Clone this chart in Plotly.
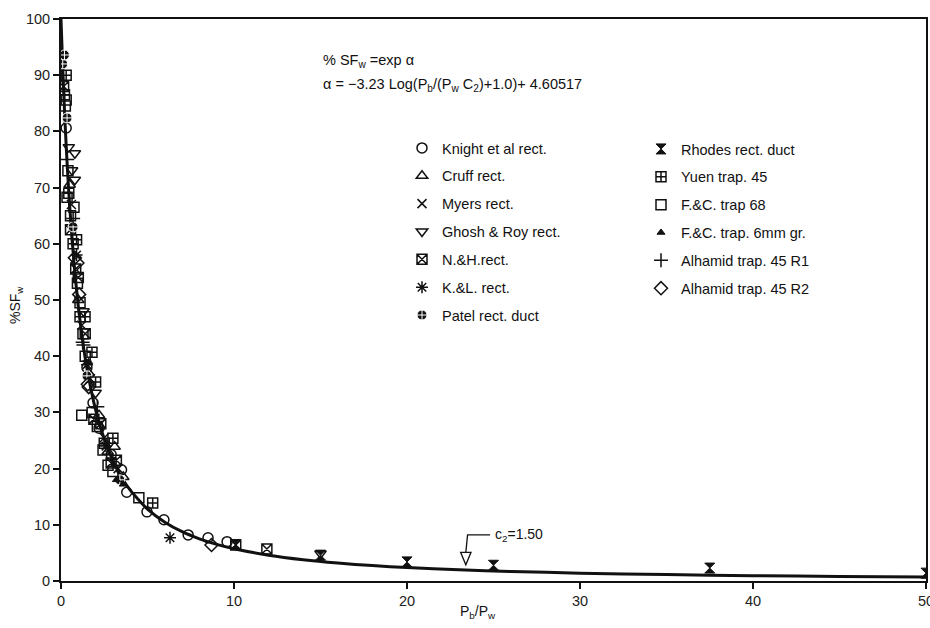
import plotly.graph_objects as go

# ---------------- data ----------------
# fitted curve  %SFw = exp(alpha), alpha = -3.23 Log(Pb/(Pw C2)+1.0) + 4.60517, C2 = 1.50
curve_x = [0, 0.1, 0.2, 0.3, 0.4, 0.5, 0.75, 1, 1.25, 1.5, 2, 2.5, 3, 3.5, 4, 5, 6, 7, 8, 9,
           10, 12, 14, 16, 18, 20, 23, 26, 30, 35, 40, 45, 50]
curve_y = [100, 91.35, 83.90, 77.43, 71.78, 66.79, 56.62, 48.84, 42.73, 37.82, 30.47, 25.26,
           21.41, 18.47, 16.16, 12.78, 10.46, 8.77, 7.51, 6.52, 5.74, 4.59, 3.78, 3.19, 2.74,
           2.39, 1.99, 1.69, 1.40, 1.14, 0.95, 0.81, 0.70]

series_names = ["Knight et al rect.", "Cruff rect.", "Myers rect.", "Ghosh & Roy rect.",
                "N.&H.rect.", "K.&L. rect.", "Patel rect. duct",
                "Rhodes rect. duct", "Yuen trap. 45", "F.&C. trap 68",
                "F.&C. trap. 6mm gr.", "Alhamid trap. 45 R1", "Alhamid trap. 45 R2"]

knight_x = [0.3, 1.5, 1.85, 2.2, 2.9, 3.5, 3.8, 4.97, 5.95, 7.35, 8.5, 9.6]
knight_y = [80.6, 38.0, 31.7, 27.2, 22.5, 19.8, 15.8, 12.3, 10.9, 8.2, 7.7, 7.0]
cruff_x = [0.5, 1.0, 1.6, 2.2, 2.7, 3.1, 3.6]
cruff_y = [70.5, 50.0, 37.0, 29.5, 23.0, 23.9, 18.5]
myers_x = [0.6, 1.2, 1.7, 2.5, 3.3]
myers_y = [67.0, 45.5, 36.0, 25.5, 20.0]
ghosh_x = [0.45, 0.8, 0.8, 0.64, 1.3, 2.0, 15.0]
ghosh_y = [77.2, 76.1, 71.4, 73.1, 48.0, 33.5, 4.9]
nh_x = [0.15, 0.55, 0.85, 1.0, 1.4, 1.9, 2.3, 2.9, 3.2, 10.1, 11.9]
nh_y = [88.0, 62.5, 55.5, 54.0, 44.0, 28.8, 28.0, 21.0, 21.5, 6.4, 5.7]
kl_x = [0.9, 1.5, 2.6, 6.3]
kl_y = [58.0, 38.5, 24.0, 7.7]
patel_x = [0.1, 0.2, 0.35, 0.7, 1.5, 3.4]
patel_y = [92.0, 93.6, 82.4, 63.0, 36.5, 18.0]
rhodes_x = [10.1, 15.0, 20.0, 25.0, 37.5, 50.0]
rhodes_y = [6.5, 4.6, 3.4, 2.8, 2.3, 1.4]
yuen_x = [0.2, 0.3, 0.45, 0.7, 0.9, 1.1, 1.39, 1.79, 2.0, 2.5, 3.0, 5.3]
yuen_y = [86.5, 90.0, 69.0, 60.0, 60.7, 47.0, 47.0, 40.7, 35.4, 24.5, 25.4, 13.9]
fc68_x = [0.25, 0.3, 0.35, 0.4, 0.55, 0.75, 0.95, 1.1, 1.27, 1.2, 1.4, 1.8, 2.1, 2.43, 2.72, 3.0, 4.5]
fc68_y = [84.5, 85.6, 68.3, 73.0, 65.0, 66.5, 53.0, 49.5, 44.0, 29.5, 40.0, 30.0, 27.5, 23.3, 20.6, 19.5, 14.8]
fc6mm_x = [1.6, 3.2, 3.6]
fc6mm_y = [39.0, 18.0, 17.2]
alr1_x = [0.35, 0.7, 1.25, 1.3, 2.1]
alr1_y = [75.0, 64.5, 42.5, 42.0, 31.0]
alr2_x = [0.8, 0.95, 1.05, 1.55, 1.6, 8.7]
alr2_y = [57.5, 56.6, 51.0, 35.0, 34.5, 6.4]

x_ticks = [0, 10, 20, 30, 40, 50]
y_ticks = [0, 10, 20, 30, 40, 50, 60, 70, 80, 90, 100]

c2_label = "c<sub>2</sub>=1.50"
c2_point = (23.35, 2.9)

# ---------------- figure ----------------
FONT = "Liberation Sans, Arial, sans-serif"
INK = "#111111"

fig = go.Figure()

fig.add_trace(go.Scatter(x=curve_x, y=curve_y, mode="lines",
                         line=dict(color=INK, width=3, shape="spline", smoothing=0.6),
                         showlegend=False, hoverinfo="skip"))

marker_defs = [
    (knight_x, knight_y, "circle-open", 10, "legend"),
    (cruff_x, cruff_y, "triangle-up-open", 10, "legend"),
    (myers_x, myers_y, "x-thin-open", 9, "legend"),
    (ghosh_x, ghosh_y, "triangle-down-open", 10, "legend"),
    (nh_x, nh_y, "square-x-open", 10, "legend"),
    (kl_x, kl_y, "asterisk-open", 10, "legend"),
    (patel_x, patel_y, "circle-cross", 10, "legend"),
    (rhodes_x, rhodes_y, "hourglass", 10, "legend2"),
    (yuen_x, yuen_y, "square-cross-open", 10, "legend2"),
    (fc68_x, fc68_y, "square-open", 10, "legend2"),
    (fc6mm_x, fc6mm_y, "triangle-up", 7, "legend2"),
    (alr1_x, alr1_y, "cross-thin-open", 10, "legend2"),
    (alr2_x, alr2_y, "diamond-open", 10, "legend2"),
]

for i, (xs, ys, sym, size, lg) in enumerate(marker_defs):
    if sym == "circle-cross":
        mk = dict(symbol=sym, size=size, color=INK, line=dict(color="white", width=1))
    elif sym in ("hourglass", "triangle-up"):
        mk = dict(symbol=sym, size=size, color=INK, line=dict(color=INK, width=1))
    else:
        mk = dict(symbol=sym, size=size, color=INK, line=dict(color=INK, width=1.5))
    fig.add_trace(go.Scatter(x=xs, y=ys, mode="markers", name=series_names[i], marker=mk,
                             legend=lg, legendgroup=f"g{i}"))

# c2 leader (bent line + open arrow head)
px, py = c2_point
fig.add_shape(type="path", xref="x", yref="y",
              path=f"M {px + 1.45} {py + 5.3} L {px + 0.15} {py + 5.3} L {px + 0.05} {py + 2.2}",
              line=dict(color=INK, width=1.3))
fig.add_shape(type="path", xref="x", yref="y",
              path=f"M {px - 0.25} {py + 2.2} L {px + 0.35} {py + 2.2} L {px + 0.05} {py} Z",
              line=dict(color=INK, width=1.3), fillcolor="white")
fig.add_annotation(x=px + 1.6, y=py + 5.3, xref="x", yref="y", text=c2_label, showarrow=False,
                   xanchor="left", yanchor="middle", font=dict(family=FONT, size=14, color=INK))

# formula text
fig.add_annotation(x=(321 - 61) / 865, y=1 - (61 - 19) / 562, xref="paper", yref="paper",
                   text="% SF<sub>w</sub> =exp α", showarrow=False, xanchor="left", yanchor="middle",
                   font=dict(family=FONT, size=14.5, color=INK))
fig.add_annotation(x=(321 - 61) / 865, y=1 - (85 - 19) / 562, xref="paper", yref="paper",
                   text="α = −3.23 Log(P<sub>b</sub>/(P<sub>w</sub> C<sub>2</sub>)+1.0)+ 4.60517",
                   showarrow=False, xanchor="left", yanchor="middle",
                   font=dict(family=FONT, size=14.5, color=INK))

# axis titles
fig.add_annotation(x=(478 - 61) / 865, y=-(612 - 581) / 562, xref="paper", yref="paper",
                   text="P<sub>b</sub>/P<sub>w</sub>", showarrow=False, xanchor="center", yanchor="middle",
                   font=dict(family=FONT, size=14, color=INK))
fig.add_annotation(x=-(61 - 16) / 865, y=1 - (305 - 19) / 562, xref="paper", yref="paper",
                   text="%SF<sub>w</sub>", showarrow=False, textangle=-90, xanchor="center",
                   yanchor="middle", font=dict(family=FONT, size=14, color=INK))

axis_common = dict(showgrid=False, zeroline=False, showline=True, linecolor=INK, linewidth=2,
                   mirror=True, ticks="outside", ticklen=6, tickwidth=1.5, tickcolor=INK,
                   ticklabeloverflow="allow", automargin=False,
                   tickfont=dict(family=FONT, size=14.5, color="#222222"))

fig.update_xaxes(range=[0, 50], tickvals=x_ticks, **axis_common)
fig.update_yaxes(range=[0, 100], tickvals=y_ticks, **axis_common)

legend_common = dict(font=dict(family=FONT, size=14.5, color=INK), bgcolor="rgba(0,0,0,0)",
                     borderwidth=0, tracegroupgap=6, xanchor="left", yanchor="top",
                     itemclick=False, itemdoubleclick=False)

fig.update_layout(
    width=930, height=628,
    margin=dict(l=61, r=4, t=19, b=47, autoexpand=False),
    paper_bgcolor="white", plot_bgcolor="white",
    showlegend=True,
    legend=dict(x=(402 - 61) / 865, y=1 - (132 - 19) / 562, **legend_common),
    legend2=dict(x=(641 - 61) / 865, y=1 - (133 - 19) / 562, **legend_common),
)

fig.write_html("out.html")
